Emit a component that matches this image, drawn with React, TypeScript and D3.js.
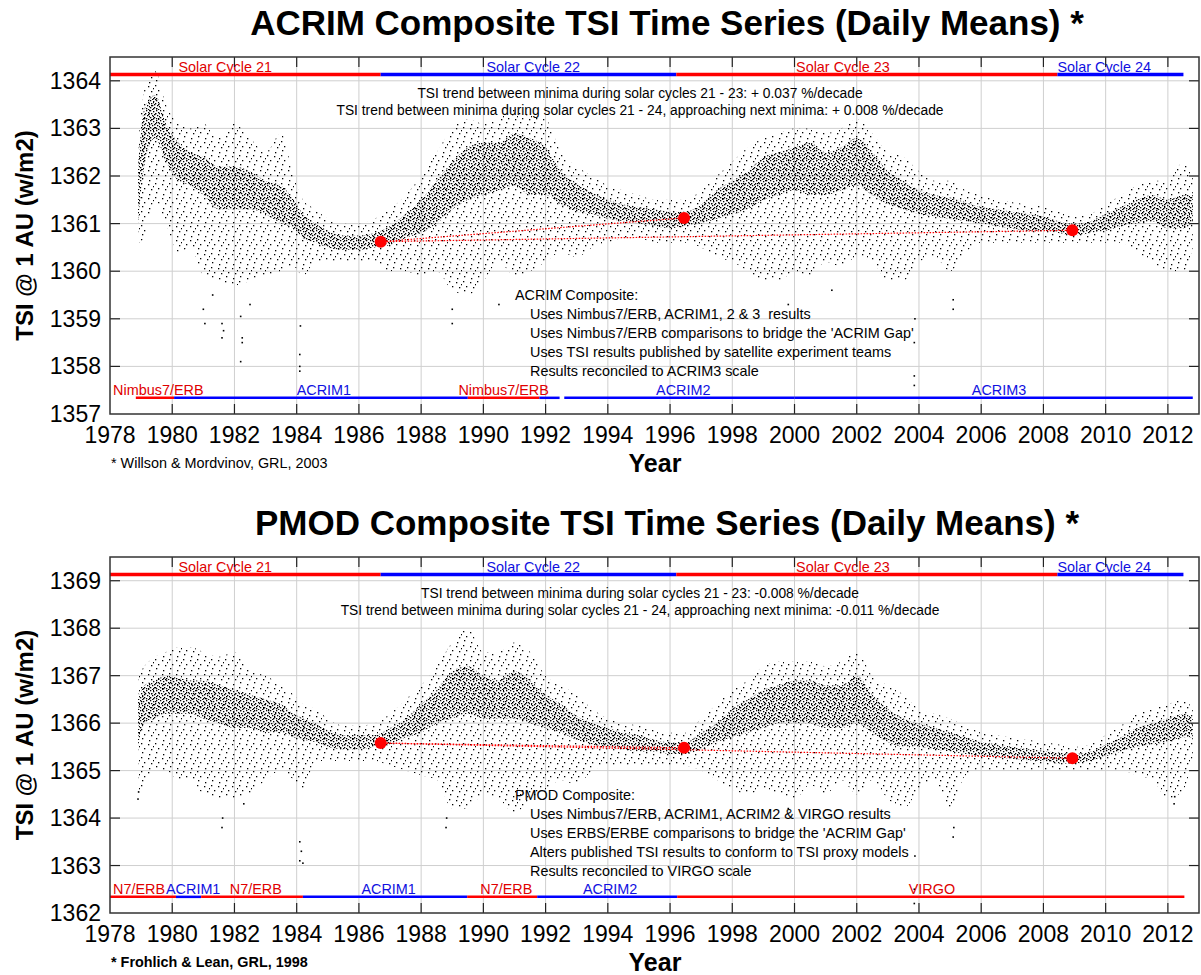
import React from "react";
import * as d3 from "d3";

// ---------- DATA ----------
const xTicks = [1978, 1980, 1982, 1984, 1986, 1988, 1990, 1992, 1994, 1996, 1998, 2000, 2002, 2004, 2006, 2008, 2010, 2012];

const sampleYears = [1978.9, 1979.1, 1979.45, 1979.8, 1980.2, 1980.6, 1981.0, 1981.5, 1982.0, 1982.5, 1983.0, 1983.5, 1983.9, 1984.2, 1984.6, 1985.0, 1985.5, 1986.0, 1986.5, 1987.0, 1987.5, 1988.0, 1988.5, 1989.0, 1989.5, 1990.0, 1990.5, 1991.0, 1991.5, 1992.0, 1992.5, 1993.0, 1993.5, 1994.0, 1994.5, 1995.0, 1995.5, 1996.0, 1996.5, 1997.0, 1997.5, 1998.0, 1998.5, 1999.0, 1999.5, 2000.0, 2000.5, 2001.0, 2001.5, 2002.0, 2002.5, 2003.0, 2003.5, 2004.0, 2004.5, 2005.0, 2005.5, 2006.0, 2006.5, 2007.0, 2007.5, 2008.0, 2008.5, 2009.0, 2009.5, 2010.0, 2010.5, 2011.0, 2011.5, 2012.0, 2012.5, 2012.8];

// ACRIM composite: outer envelope low/high and dense core low/high
const acrimLow = [1360.6, 1360.7, 1361.5, 1361.0, 1360.4, 1360.5, 1359.9, 1359.8, 1359.7, 1359.8, 1359.9, 1360.0, 1360.1, 1359.9, 1360.2, 1360.2, 1360.2, 1360.2, 1360.2, 1360.0, 1360.0, 1359.9, 1360.0, 1359.6, 1359.5, 1359.8, 1360.2, 1359.9, 1360.0, 1360.2, 1360.4, 1360.3, 1360.5, 1360.6, 1360.7, 1360.7, 1360.6, 1360.6, 1360.6, 1360.5, 1360.3, 1360.2, 1360.0, 1359.8, 1359.8, 1360.0, 1359.9, 1360.2, 1360.1, 1360.3, 1360.2, 1359.8, 1359.8, 1360.2, 1360.3, 1360.0, 1360.4, 1360.6, 1360.6, 1360.6, 1360.6, 1360.6, 1360.6, 1360.6, 1360.6, 1360.6, 1360.6, 1360.4, 1360.2, 1360.0, 1360.0, 1360.5];
const acrimCoreLow = [1361.0, 1362.2, 1362.8, 1362.3, 1361.9, 1361.8, 1361.6, 1361.3, 1361.3, 1361.3, 1361.2, 1361.0, 1360.9, 1360.7, 1360.6, 1360.5, 1360.45, 1360.45, 1360.5, 1360.55, 1360.7, 1360.8, 1361.0, 1361.3, 1361.5, 1361.6, 1361.7, 1361.8, 1361.6, 1361.6, 1361.4, 1361.25, 1361.2, 1361.1, 1361.05, 1361.0, 1360.95, 1360.9, 1360.95, 1361.0, 1361.1, 1361.2, 1361.3, 1361.5, 1361.6, 1361.7, 1361.6, 1361.6, 1361.7, 1361.8, 1361.6, 1361.4, 1361.3, 1361.2, 1361.15, 1361.1, 1361.05, 1361.0, 1360.95, 1360.9, 1360.85, 1360.85, 1360.8, 1360.75, 1360.8, 1360.85, 1360.95, 1361.0, 1361.05, 1360.9, 1360.9, 1361.0];
const acrimCoreHigh = [1362.2, 1363.4, 1363.7, 1363.1, 1362.7, 1362.5, 1362.4, 1362.2, 1362.2, 1362.1, 1361.9, 1361.8, 1361.5, 1361.2, 1361.0, 1360.85, 1360.75, 1360.75, 1360.8, 1360.95, 1361.2, 1361.5, 1361.9, 1362.3, 1362.6, 1362.7, 1362.7, 1362.9, 1362.8, 1362.6, 1362.1, 1361.85, 1361.65, 1361.5, 1361.4, 1361.35, 1361.3, 1361.25, 1361.25, 1361.4, 1361.7, 1361.9, 1362.1, 1362.4, 1362.5, 1362.6, 1362.7, 1362.5, 1362.6, 1362.8, 1362.5, 1362.1, 1361.9, 1361.7, 1361.6, 1361.55, 1361.45, 1361.35, 1361.3, 1361.25, 1361.2, 1361.15, 1361.05, 1361.0, 1361.05, 1361.2, 1361.35, 1361.5, 1361.6, 1361.5, 1361.6, 1361.6];
const acrimHigh = [1362.6, 1363.8, 1364.2, 1363.5, 1363.1, 1363.0, 1363.1, 1362.8, 1363.1, 1362.8, 1362.5, 1362.9, 1362.0, 1361.5, 1361.3, 1361.1, 1361.0, 1361.0, 1361.1, 1361.3, 1361.6, 1362.0, 1362.5, 1363.0, 1363.2, 1363.1, 1363.2, 1363.4, 1363.3, 1363.2, 1362.5, 1362.2, 1362.0, 1361.8, 1361.7, 1361.6, 1361.5, 1361.5, 1361.5, 1361.7, 1362.0, 1362.3, 1362.6, 1362.8, 1362.9, 1363.0, 1363.0, 1362.9, 1363.0, 1363.2, 1362.9, 1362.5, 1362.4, 1362.1, 1361.9, 1361.9, 1361.7, 1361.6, 1361.5, 1361.45, 1361.4, 1361.35, 1361.25, 1361.15, 1361.2, 1361.4, 1361.6, 1361.8, 1361.9, 1361.9, 1362.3, 1362.0];
const acrimOutlierYears = [1981.0, 1981.05, 1981.3, 1981.6, 1981.6, 1981.65, 1982.2, 1982.25, 1982.25, 1982.2, 1982.5, 1984.1, 1984.1, 1984.1, 1984.12, 1989.0, 1989.0, 1990.5, 1992.5, 1999.8, 2001.2, 2003.85, 2003.85, 2003.85, 2003.87, 2005.1, 2005.1];
const acrimOutlierValues = [1359.2, 1358.9, 1359.5, 1358.9, 1358.6, 1358.75, 1358.1, 1358.5, 1358.6, 1359.05, 1359.3, 1358.25, 1358.0, 1357.9, 1358.85, 1358.9, 1359.2, 1359.3, 1359.6, 1359.3, 1359.6, 1357.6, 1357.8, 1358.5, 1359.0, 1359.2, 1359.4];

// PMOD composite
const pmodLow = [1364.4, 1364.6, 1365.0, 1365.0, 1364.8, 1364.8, 1364.5, 1364.4, 1364.4, 1364.5, 1364.8, 1365.0, 1364.8, 1364.6, 1365.2, 1365.2, 1365.2, 1365.2, 1365.2, 1365.1, 1365.0, 1364.9, 1364.8, 1364.2, 1364.2, 1364.5, 1364.4, 1364.1, 1364.4, 1364.6, 1364.8, 1364.7, 1365.0, 1365.1, 1365.1, 1365.1, 1365.1, 1365.1, 1365.1, 1365.0, 1364.8, 1364.6, 1364.5, 1364.6, 1364.5, 1364.4, 1364.7, 1364.5, 1364.8, 1364.5, 1364.8, 1364.4, 1364.2, 1364.6, 1364.8, 1364.2, 1364.9, 1365.0, 1365.0, 1365.0, 1365.0, 1365.0, 1365.0, 1365.0, 1365.0, 1365.0, 1365.0, 1364.9, 1364.8, 1364.4, 1364.6, 1365.3];
const pmodCoreLow = [1365.5, 1366.0, 1366.1, 1366.2, 1366.2, 1366.2, 1366.1, 1366.0, 1365.9, 1365.9, 1365.8, 1365.8, 1365.7, 1365.65, 1365.6, 1365.5, 1365.45, 1365.45, 1365.5, 1365.55, 1365.7, 1365.8, 1366.0, 1366.1, 1366.2, 1366.1, 1366.1, 1366.1, 1366.0, 1365.9, 1365.8, 1365.65, 1365.55, 1365.5, 1365.45, 1365.4, 1365.4, 1365.35, 1365.35, 1365.45, 1365.6, 1365.7, 1365.8, 1365.9, 1366.0, 1366.0, 1366.0, 1365.9, 1365.9, 1366.0, 1365.8, 1365.6, 1365.5, 1365.5, 1365.45, 1365.4, 1365.35, 1365.3, 1365.28, 1365.25, 1365.22, 1365.2, 1365.15, 1365.15, 1365.2, 1365.3, 1365.4, 1365.5, 1365.55, 1365.6, 1365.7, 1365.7];
const pmodCoreHigh = [1366.5, 1366.8, 1366.9, 1367.0, 1366.95, 1366.9, 1366.9, 1366.8, 1366.7, 1366.6, 1366.5, 1366.4, 1366.2, 1366.1, 1366.0, 1365.85, 1365.75, 1365.75, 1365.75, 1365.9, 1366.1, 1366.4, 1366.7, 1367.1, 1367.2, 1367.0, 1366.9, 1367.1, 1366.9, 1366.6, 1366.4, 1366.15, 1366.0, 1365.9, 1365.8, 1365.75, 1365.65, 1365.6, 1365.6, 1365.8, 1366.0, 1366.3, 1366.5, 1366.7, 1366.8, 1366.9, 1366.9, 1366.8, 1366.8, 1367.0, 1366.6, 1366.3, 1366.1, 1366.0, 1365.9, 1365.8, 1365.7, 1365.6, 1365.55, 1365.5, 1365.45, 1365.42, 1365.38, 1365.35, 1365.4, 1365.55, 1365.7, 1365.9, 1366.0, 1366.1, 1366.2, 1366.1];
const pmodHigh = [1367.0, 1367.2, 1367.4, 1367.5, 1367.6, 1367.6, 1367.5, 1367.4, 1367.5, 1367.1, 1367.0, 1366.8, 1366.6, 1366.4, 1366.3, 1366.1, 1365.95, 1365.95, 1366.0, 1366.2, 1366.5, 1366.8, 1367.2, 1367.7, 1368.0, 1367.5, 1367.5, 1367.7, 1367.5, 1367.0, 1366.8, 1366.6, 1366.3, 1366.1, 1366.0, 1365.95, 1365.85, 1365.8, 1365.8, 1366.1, 1366.4, 1366.7, 1366.9, 1367.2, 1367.3, 1367.3, 1367.3, 1367.2, 1367.3, 1367.5, 1367.0, 1366.8, 1366.6, 1366.3, 1366.2, 1366.1, 1365.95, 1365.8, 1365.75, 1365.7, 1365.65, 1365.6, 1365.55, 1365.5, 1365.55, 1365.75, 1365.95, 1366.2, 1366.3, 1366.4, 1366.5, 1366.3];
const pmodOutlierYears = [1978.9, 1978.92, 1981.6, 1981.62, 1982.3, 1984.1, 1984.15, 1984.1, 1984.2, 1988.8, 1988.82, 1999.8, 2003.85, 2003.85, 2003.87, 2005.1, 2005.12, 2012.2, 2012.22];
const pmodOutlierValues = [1364.4, 1364.55, 1363.8, 1364.0, 1364.3, 1363.1, 1363.3, 1363.5, 1363.05, 1363.8, 1364.0, 1364.2, 1362.2, 1362.5, 1363.2, 1363.6, 1363.8, 1364.3, 1364.45];

// solar cycles (same in both panels)
const cycleNames = ["Solar Cycle 21", "Solar Cycle 22", "Solar Cycle 23", "Solar Cycle 24"];
const cycleStart = [1978.0, 1986.7, 1996.2, 2008.45];
const cycleEnd = [1986.7, 1996.2, 2008.45, 2012.5];
const cycleLabelAt = [1980.2, 1990.1, 2000.05, 2008.45];
const cycleColor = ["red", "blue", "red", "blue"];

// instruments, ACRIM panel
const acrimInstNames = ["Nimbus7/ERB", "ACRIM1", "Nimbus7/ERB", "", "ACRIM2", "ACRIM3"];
const acrimInstStart = [1978.83, 1980.06, 1989.5, 1991.8, 1992.6, 2000.0];
const acrimInstEnd = [1980.06, 1989.5, 1991.8, 1992.45, 2000.0, 2012.8];
const acrimInstLabelAt = [1978.1, 1984.0, 1989.2, 0, 1995.55, 2005.7];
const acrimInstColor = ["red", "blue", "red", "blue", "blue", "blue"];

// instruments, PMOD panel
const pmodInstNames = ["N7/ERB", "ACRIM1", "N7/ERB", "ACRIM1", "N7/ERB", "ACRIM2", "VIRGO"];
const pmodInstStart = [1978.0, 1980.12, 1980.93, 1984.2, 1989.48, 1991.73, 1996.23];
const pmodInstEnd = [1980.12, 1980.93, 1984.2, 1989.48, 1991.73, 1996.23, 2012.53];
const pmodInstLabelAt = [1978.1, 1979.8, 1981.85, 1986.08, 1989.9, 1993.2, 2003.67];
const pmodInstColor = ["red", "blue", "red", "blue", "red", "blue", "red"];

// minima markers
const minimaYears = [1986.7, 1996.45, 2008.93];
const acrimMinima = [1360.62, 1361.12, 1360.86];
const pmodMinima = [1365.58, 1365.48, 1365.26];

const acrimNotes = ["ACRIM Composite:", "Uses Nimbus7/ERB, ACRIM1, 2 & 3  results", "Uses Nimbus7/ERB comparisons to bridge the 'ACRIM Gap'", "Uses TSI results published by satellite experiment teams", "Results reconciled to ACRIM3 scale"];
const pmodNotes = ["PMOD Composite:", "Uses Nimbus7/ERB, ACRIM1, ACRIM2 & VIRGO results", "Uses ERBS/ERBE comparisons to bridge the 'ACRIM Gap'", "Alters published TSI results to conform to TSI proxy models", "Results reconciled to VIRGO scale"];

// ---------- drawing ----------
const FONT = "'Liberation Sans', Arial, Helvetica, sans-serif";
const RED = "#ff0000";
const BLUE = "#0000ff";
const TXT_RED = "#e00000";
const TXT_BLUE = "#1010e0";
const col = (c: string) => (c === "red" ? RED : BLUE);
const tcol = (c: string) => (c === "red" ? TXT_RED : TXT_BLUE);

const x = d3.scaleLinear().domain([1978, 2013]).range([110, 1199]);

// texture dot positions (a style for the dense daily-mean scatter)
const denseDots = [[0, 0], [3, 1], [6, 0], [8, 2], [1, 3], [5, 3], [2, 5], [7, 5], [9, 6], [0, 7], [4, 7], [6, 8], [2, 9], [8, 9], [4, 4], [9, 3], [3, 8]];
const sparseDots = [[1, 1], [8, 2], [4, 6], [11, 7], [2, 10], [9, 12], [13, 4]];

type PanelProps = {
  id: string;
  top: number;
  bottom: number;
  yMin: number;
  title: string;
  footnote: string;
  footBold: boolean;
  low: number[];
  coreLow: number[];
  coreHigh: number[];
  high: number[];
  outYears: number[];
  outValues: number[];
  instNames: string[];
  instStart: number[];
  instEnd: number[];
  instLabelAt: number[];
  instColor: string[];
  minima: number[];
  trend1: string;
  trend2: string;
  notes: string[];
};

function Panel(p: PanelProps) {
  const yTicks = d3.range(p.yMin, p.yMin + 8);
  const y = d3.scaleLinear().domain([p.yMin, p.yMin + 7.5]).range([p.bottom, p.top]);
  const L = x.range()[0];
  const R = x.range()[1];
  const idx = sampleYears.map((_, i) => i);
  const outer = d3
    .area<number>()
    .x((i) => x(sampleYears[i]))
    .y0((i) => y(p.low[i]))
    .y1((i) => y(p.high[i]))
    .curve(d3.curveMonotoneX);
  const core = d3
    .area<number>()
    .x((i) => x(sampleYears[i]))
    .y0((i) => y(p.coreLow[i]))
    .y1((i) => y(p.coreHigh[i]))
    .curve(d3.curveMonotoneX);
  const cycleY = y(p.yMin + 7.13);
  const instY = y(p.yMin + 0.34);
  return (
    <g>
      <text x={667} y={p.top - 22} textAnchor="middle" fontFamily={FONT} fontWeight="bold" fontSize={35}>
        {p.title}
      </text>
      {/* grid */}
      {xTicks.slice(1).map((t) => (
        <line key={"gx" + t} x1={x(t)} x2={x(t)} y1={p.top} y2={p.bottom} stroke="#cfcfcf" strokeWidth={1} />
      ))}
      {yTicks.slice(1).map((t) => (
        <line key={"gy" + t} x1={L} x2={R} y1={y(t)} y2={y(t)} stroke="#cfcfcf" strokeWidth={1} />
      ))}
      {/* data clouds */}
      <path d={outer(idx) || ""} fill={`url(#sparse-${p.id})`} />
      <path d={core(idx) || ""} fill={`url(#dense-${p.id})`} />
      {p.outYears.map((yr, i) => (
        <rect key={"o" + i} x={x(yr) - 0.8} y={y(p.outValues[i]) - 0.8} width={1.6} height={1.6} fill="#000" />
      ))}
      {/* trend lines */}
      <line x1={x(minimaYears[0])} y1={y(p.minima[0])} x2={x(minimaYears[1])} y2={y(p.minima[1])} stroke={RED} strokeWidth={1.2} strokeDasharray="1.5,1.5" />
      <line x1={x(minimaYears[0])} y1={y(p.minima[0])} x2={x(minimaYears[2])} y2={y(p.minima[2])} stroke={RED} strokeWidth={1.2} strokeDasharray="1.5,1.5" />
      {minimaYears.map((yr, i) => (
        <circle key={"m" + i} cx={x(yr)} cy={y(p.minima[i])} r={6} fill={RED} />
      ))}
      {/* solar cycles */}
      {cycleNames.map((n, i) => (
        <g key={"c" + i}>
          <line x1={x(cycleStart[i])} x2={x(cycleEnd[i])} y1={cycleY} y2={cycleY} stroke={col(cycleColor[i])} strokeWidth={3.5} />
          <text x={x(cycleLabelAt[i])} y={cycleY - 3} fontFamily={FONT} fontSize={14.4} fill={tcol(cycleColor[i])}>
            {n}
          </text>
        </g>
      ))}
      {/* instruments */}
      {p.instNames.map((n, i) => (
        <g key={"i" + i}>
          <line x1={x(p.instStart[i])} x2={x(p.instEnd[i])} y1={instY} y2={instY} stroke={col(p.instColor[i])} strokeWidth={2.5} />
          {n && (
            <text x={x(p.instLabelAt[i])} y={instY - 3} fontFamily={FONT} fontSize={14.4} fill={tcol(p.instColor[i])}>
              {n}
            </text>
          )}
        </g>
      ))}
      {/* trend texts */}
      <text x={640} y={p.top + 41} textAnchor="middle" fontFamily={FONT} fontSize={13.8} fill="#000">
        {p.trend1}
      </text>
      <text x={640} y={p.top + 58} textAnchor="middle" fontFamily={FONT} fontSize={13.8} fill="#000">
        {p.trend2}
      </text>
      {/* notes */}
      {p.notes.map((n, i) => (
        <text key={"n" + i} x={i === 0 ? 515 : 530} y={p.top + 243 + i * 19} fontFamily={FONT} fontSize={14.4} fill="#000" style={{ whiteSpace: "pre" }}>
          {n}
        </text>
      ))}
      {/* ticks */}
      {xTicks.slice(1).map((t) => (
        <g key={"tx" + t}>
          <line x1={x(t)} x2={x(t)} y1={p.bottom} y2={p.bottom - 10} stroke="#222" strokeWidth={1.2} />
          <line x1={x(t)} x2={x(t)} y1={p.top} y2={p.top + 10} stroke="#222" strokeWidth={1.2} />
        </g>
      ))}
      {yTicks.slice(1).map((t) => (
        <g key={"ty" + t}>
          <line x1={L} x2={L + 10} y1={y(t)} y2={y(t)} stroke="#222" strokeWidth={1.2} />
          <line x1={R} x2={R - 10} y1={y(t)} y2={y(t)} stroke="#222" strokeWidth={1.2} />
        </g>
      ))}
      <rect x={L} y={p.top} width={R - L} height={p.bottom - p.top} fill="none" stroke="#333" strokeWidth={1.5} />
      {/* tick labels */}
      {xTicks.map((t) => (
        <text key={"lx" + t} x={x(t)} y={p.bottom + 29} textAnchor="middle" fontFamily={FONT} fontSize={23} fill="#000">
          {t}
        </text>
      ))}
      {yTicks.map((t) => (
        <text key={"ly" + t} x={101} y={y(t) + 8} textAnchor="end" fontFamily={FONT} fontSize={23} fill="#000">
          {t}
        </text>
      ))}
      <text transform={`translate(33,${(p.top + p.bottom) / 2}) rotate(-90)`} textAnchor="middle" fontFamily={FONT} fontWeight="bold" fontSize={24}>
        TSI @ 1 AU (w/m2)
      </text>
      <text x={655} y={p.bottom + 58} textAnchor="middle" fontFamily={FONT} fontWeight="bold" fontSize={25}>
        Year
      </text>
      <text x={111} y={p.bottom + 54} fontFamily={FONT} fontWeight={p.footBold ? "bold" : "normal"} fontSize={14.4}>
        {p.footnote}
      </text>
    </g>
  );
}

export default function App() {
  return (
    <svg width={1201} height={975} style={{ position: "absolute", left: 0, top: 0, background: "#fff" }}>
      <defs>
        {["a", "p"].map((id) => (
          <g key={id}>
            <pattern id={`dense-${id}`} patternUnits="userSpaceOnUse" width={10} height={10}>
              {denseDots.map((d, i) => (
                <rect key={i} x={d[0]} y={d[1]} width={1.3} height={1.3} fill="#000" />
              ))}
            </pattern>
            <pattern id={`sparse-${id}`} patternUnits="userSpaceOnUse" width={14} height={14}>
              {sparseDots.map((d, i) => (
                <rect key={i} x={d[0]} y={d[1]} width={1.3} height={1.3} fill="#000" />
              ))}
            </pattern>
          </g>
        ))}
      </defs>
      <rect x={0} y={0} width={1201} height={975} fill="#fff" />
      <Panel
        id="a"
        top={57}
        bottom={414}
        yMin={1357}
        title="ACRIM Composite TSI Time Series (Daily Means) *"
        footnote="* Willson & Mordvinov, GRL, 2003"
        footBold={false}
        low={acrimLow}
        coreLow={acrimCoreLow}
        coreHigh={acrimCoreHigh}
        high={acrimHigh}
        outYears={acrimOutlierYears}
        outValues={acrimOutlierValues}
        instNames={acrimInstNames}
        instStart={acrimInstStart}
        instEnd={acrimInstEnd}
        instLabelAt={acrimInstLabelAt}
        instColor={acrimInstColor}
        minima={acrimMinima}
        trend1="TSI trend between minima during solar cycles 21 - 23: + 0.037 %/decade"
        trend2="TSI trend between minima during solar cycles 21 - 24, approaching next minima: + 0.008 %/decade"
        notes={acrimNotes}
      />
      <Panel
        id="p"
        top={557}
        bottom={913}
        yMin={1362}
        title="PMOD Composite TSI Time Series (Daily Means) *"
        footnote="* Frohlich & Lean, GRL, 1998"
        footBold={true}
        low={pmodLow}
        coreLow={pmodCoreLow}
        coreHigh={pmodCoreHigh}
        high={pmodHigh}
        outYears={pmodOutlierYears}
        outValues={pmodOutlierValues}
        instNames={pmodInstNames}
        instStart={pmodInstStart}
        instEnd={pmodInstEnd}
        instLabelAt={pmodInstLabelAt}
        instColor={pmodInstColor}
        minima={pmodMinima}
        trend1="TSI trend between minima during solar cycles 21 - 23: -0.008 %/decade"
        trend2="TSI trend between minima during solar cycles 21 - 24, approaching next minima: -0.011 %/decade"
        notes={pmodNotes}
      />
    </svg>
  );
}
